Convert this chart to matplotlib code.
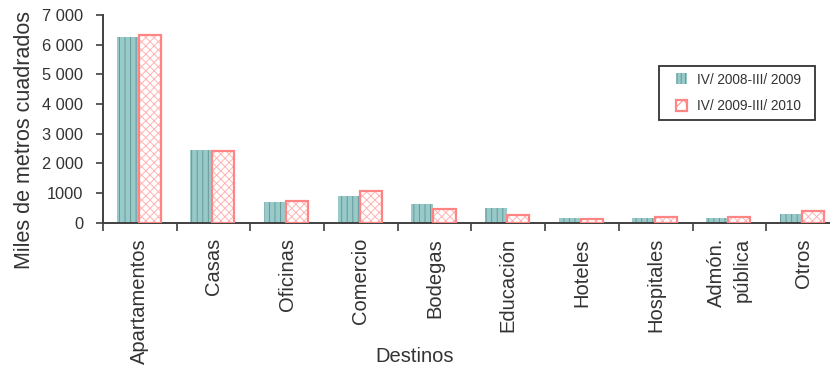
import numpy as np
import matplotlib
matplotlib.use("Agg")
import matplotlib.pyplot as plt
from matplotlib.patches import Rectangle
from matplotlib.legend_handler import HandlerPatch

plt.rcParams["font.family"] = ["Liberation Sans", "DejaVu Sans"]
plt.rcParams["hatch.linewidth"] = 0.7

# datos (miles de m2)
destinos = ["Apartamentos", "Casas", "Oficinas", "Comercio", "Bodegas",
            "Educación", "Hoteles", "Hospitales", "Admón.\npública", "Otros"]
serie_2008_2009 = [6250, 2440, 690, 890, 625, 485, 155, 155, 155, 293]
serie_2009_2010 = [6326, 2416, 730, 1065, 467, 277, 125, 210, 210, 404]
nombres_series = ["IV/ 2008-III/ 2009  ", "IV/ 2009-III/ 2010  "]
yticks = [0, 1000, 2000, 3000, 4000, 5000, 6000, 7000]
ytick_labels = ["0", "1000", "2 000", "3 000", "4 000", "5 000", "6 000", "7 000"]

gris = "#404040"
teal = "#99caca"
teal_osc = "#679999"
rosa = "#ff8585"
rosa_cl = "#ffb3b3"

fig = plt.figure(figsize=(8.3, 3.75), dpi=100, facecolor="white")
ax = fig.add_axes([0.124, 0.406, 0.888, 0.554])

x = np.arange(len(destinos))
w = 0.3
ax.bar(x - 0.165, serie_2008_2009, width=w, color=teal, edgecolor=teal_osc,
       hatch="|||", linewidth=0, zorder=2)
ax.bar(x + 0.135, serie_2009_2010, width=w, color="white", edgecolor=rosa_cl,
       hatch="xxxx", linewidth=0, zorder=2)
ax.bar(x + 0.135, serie_2009_2010, width=w, fill=False, edgecolor=rosa,
       linewidth=1.6, zorder=3)

ax.set_xlim(-0.5, len(destinos) - 0.5)
ax.set_ylim(0, 7000)

ax.set_yticks(yticks)
ax.set_yticklabels(ytick_labels)
ax.tick_params(axis="y", length=5, width=1.2, color=gris, pad=9,
               labelsize=11.8, labelcolor="#333333")

ax.set_xticks(x)
ax.set_xticklabels(destinos, rotation=90, fontsize=14.5, color="#333333",
                   linespacing=1.45)
for lbl in ax.get_xticklabels():
    lbl.set_multialignment("right")
ax.set_xticks(np.arange(len(destinos) + 1) - 0.5, minor=True)
ax.tick_params(axis="x", which="major", length=0, pad=11)
ax.tick_params(axis="x", which="minor", length=6, width=1.2, color=gris)

for s in ["top", "right"]:
    ax.spines[s].set_visible(False)
for s in ["left", "bottom"]:
    ax.spines[s].set_color(gris)
    ax.spines[s].set_linewidth(1.4)

ax.set_ylabel("Miles de metros cuadrados", fontsize=15.5, color="#333333")
ax.yaxis.set_label_coords(-0.092, 0.40)
fig.text(415 / 830, 1 - 356 / 375, "Destinos", fontsize=14.5, color="#333333",
         ha="center", va="center")


def cuadrito(legend, orig_handle, xdescent, ydescent, width, height, fontsize):
    lado = 8.0
    return Rectangle((width - xdescent - lado, -ydescent + (height - lado) / 2),
                     lado, lado)


h1 = Rectangle((0, 0), 1, 1, facecolor=teal, edgecolor=teal_osc, hatch="||||",
               linewidth=0)
h2 = Rectangle((0, 0), 1, 1, facecolor="white", edgecolor=rosa, hatch="xx",
               linewidth=1.6)
leg = ax.legend([h1, h2], nombres_series, loc="center",
                bbox_to_anchor=(737 / 830, 1 - 93 / 375),
                bbox_transform=fig.transFigure, fontsize=9.8,
                frameon=True, fancybox=False, edgecolor="black",
                handlelength=1.6, handleheight=0.7, handletextpad=0.7,
                borderpad=0.45, labelspacing=0.95, borderaxespad=0,
                handler_map={Rectangle: HandlerPatch(patch_func=cuadrito)})
leg.get_frame().set_linewidth(1.3)
for t in leg.get_texts():
    t.set_color("#333333")

fig.savefig("out.png", dpi=100, facecolor="white")
